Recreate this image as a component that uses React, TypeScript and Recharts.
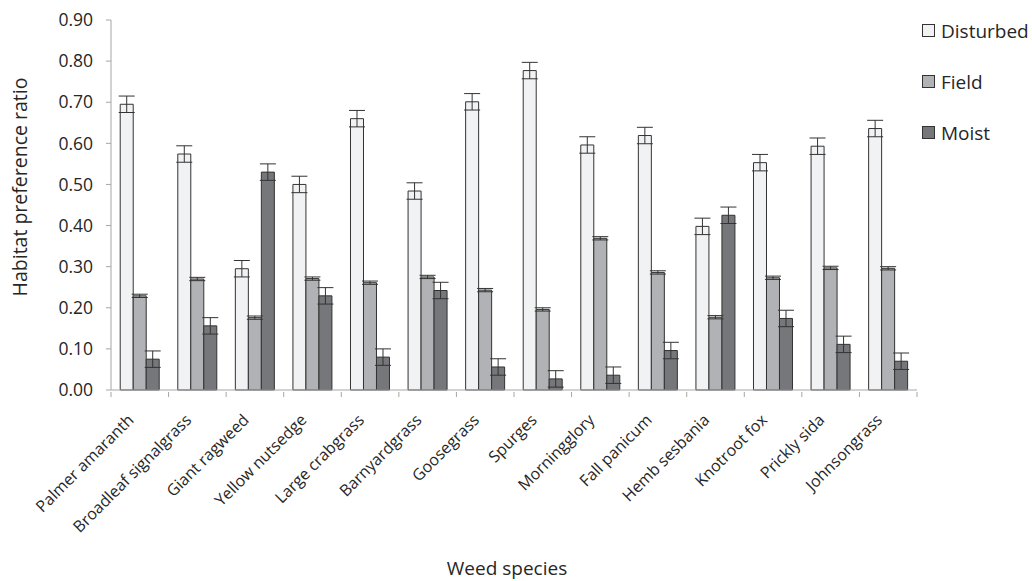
import React from 'react';
import { BarChart, Bar, XAxis, YAxis, ErrorBar, Legend } from 'recharts';

const categories = [
  'Palmer amaranth', 'Broadleaf signalgrass', 'Giant ragweed', 'Yellow nutsedge',
  'Large crabgrass', 'Barnyardgrass', 'Goosegrass', 'Spurges', 'Morningglory',
  'Fall panicum', 'Hemb sesbania', 'Knotroot fox', 'Prickly sida', 'Johnsongrass',
];
const disturbed = [0.695, 0.574, 0.295, 0.500, 0.660, 0.484, 0.701, 0.777, 0.596, 0.619, 0.398, 0.553, 0.593, 0.636];
const disturbedErr = [0.02, 0.02, 0.02, 0.02, 0.02, 0.02, 0.02, 0.02, 0.02, 0.02, 0.02, 0.02, 0.02, 0.02];
const field = [0.229, 0.270, 0.176, 0.271, 0.261, 0.275, 0.243, 0.196, 0.369, 0.286, 0.177, 0.273, 0.297, 0.296];
const fieldErr = [0.004, 0.004, 0.004, 0.004, 0.004, 0.004, 0.004, 0.004, 0.004, 0.004, 0.004, 0.004, 0.004, 0.004];
const moist = [0.075, 0.156, 0.530, 0.229, 0.080, 0.242, 0.056, 0.027, 0.036, 0.096, 0.425, 0.174, 0.111, 0.070];
const moistErr = [0.02, 0.02, 0.02, 0.02, 0.02, 0.02, 0.02, 0.02, 0.02, 0.02, 0.02, 0.02, 0.02, 0.02];
const yTicks = [0, 0.1, 0.2, 0.3, 0.4, 0.5, 0.6, 0.7, 0.8, 0.9];

const data = categories.map((name, i) => ({
  name,
  Disturbed: disturbed[i],
  dErr: disturbedErr[i],
  Field: field[i],
  fErr: fieldErr[i],
  Moist: moist[i],
  mErr: moistErr[i],
}));

const FONT = '"Open Sans", sans-serif';
const TEXT = '#262626';
const AXIS = '#a6a6a6';
const PLOT_LEFT = 111;
const PLOT_RIGHT = 917;
const BAND = (PLOT_RIGHT - PLOT_LEFT) / categories.length;

const CatTick = (props: any) => {
  const { x, y, payload, index } = props;
  return (
    <g>
      <line x1={x - BAND / 2} x2={x - BAND / 2} y1={y} y2={y + 5} stroke={AXIS} />
      {index === categories.length - 1 && (
        <line x1={x + BAND / 2} x2={x + BAND / 2} y1={y} y2={y + 5} stroke={AXIS} />
      )}
      <text
        transform={`translate(${x - 5},${y + 29}) rotate(-45)`}
        textAnchor="end"
        fontFamily={FONT}
        fontSize={16}
        fill={TEXT}
      >
        {payload.value}
      </text>
    </g>
  );
};

const YLabel = () => (
  <text
    transform="translate(27,187) rotate(-90)"
    textAnchor="middle"
    fontFamily={FONT}
    fontSize={19.5}
    fill={TEXT}
  >
    Habitat preference ratio
  </text>
);

const XLabel = () => (
  <text x={507} y={575} textAnchor="middle" fontFamily={FONT} fontSize={19} fill={TEXT}>
    Weed species
  </text>
);

const renderLegend = (props: any) => {
  const { payload } = props;
  return (
    <div style={{ fontFamily: FONT, fontSize: 19, color: TEXT, width: 110 }}>
      {(payload || []).map((p: any) => (
        <div key={p.value} style={{ display: 'flex', alignItems: 'center', height: 51, whiteSpace: 'nowrap' }}>
          <span
            style={{
              display: 'inline-block',
              width: 11,
              height: 11,
              background: p.color,
              border: '1px solid #333',
              marginRight: 6,
            }}
          />
          {p.value}
        </div>
      ))}
    </div>
  );
};

export default function App() {
  return (
    <div style={{ position: 'absolute', left: 0, top: 0, width: 1032, height: 581, background: '#fff' }}>
      <BarChart
        width={1032}
        height={581}
        data={data}
        margin={{ top: 20, right: 5, bottom: 0, left: 0 }}
        barCategoryGap="16%"
        barGap={0}
      >
        <XAxis
          dataKey="name"
          interval={0}
          height={191}
          tickSize={0}
          tickLine={false}
          axisLine={{ stroke: AXIS }}
          tick={<CatTick />}
          label={<XLabel />}
        />
        <YAxis
          width={111}
          domain={[0, 0.9]}
          ticks={yTicks}
          tickFormatter={(v: number) => v.toFixed(2)}
          tickSize={5}
          tickMargin={13}
          tickLine={{ stroke: AXIS }}
          axisLine={{ stroke: AXIS }}
          tick={{ fontFamily: FONT, fontSize: 17.5, fill: TEXT }}
          label={<YLabel />}
        />
        <Legend
          layout="vertical"
          align="right"
          verticalAlign="top"
          content={renderLegend}
          wrapperStyle={{ left: 922, top: 5, width: 110 }}
        />
        <Bar dataKey="Disturbed" fill="#f1f2f4" stroke="#333" strokeWidth={1} isAnimationActive={false}>
          <ErrorBar dataKey="dErr" width={8} stroke="#333" strokeWidth={1} />
        </Bar>
        <Bar dataKey="Field" fill="#b1b2b6" stroke="#333" strokeWidth={1} isAnimationActive={false}>
          <ErrorBar dataKey="fErr" width={8} stroke="#333" strokeWidth={1} />
        </Bar>
        <Bar dataKey="Moist" fill="#76777b" stroke="#333" strokeWidth={1} isAnimationActive={false}>
          <ErrorBar dataKey="mErr" width={8} stroke="#333" strokeWidth={1} />
        </Bar>
      </BarChart>
    </div>
  );
}
